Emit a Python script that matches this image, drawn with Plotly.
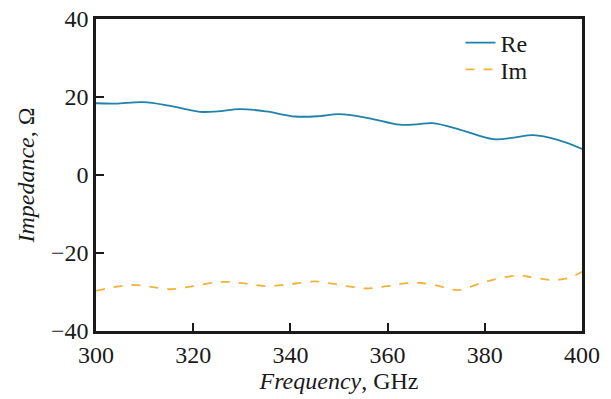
import plotly.graph_objects as go

freq_re = [300, 304, 309.7, 315, 321.4, 325, 329.6, 335, 341, 346, 350, 356, 362.5, 366, 369.3, 375, 381.7, 386, 390, 395, 400]
re_vals = [18.4, 18.3, 18.7, 17.8, 16.2, 16.3, 16.9, 16.3, 15.0, 15.1, 15.6, 14.6, 12.9, 13.0, 13.3, 11.6, 9.2, 9.6, 10.2, 9.0, 6.7]

freq_im = [300, 303.5, 307.4, 311, 315.2, 320, 326, 330.5, 335, 340, 345, 349, 352.3, 355.8, 360, 365.2, 370, 374.5, 380, 386.6, 390, 393.4, 397, 400]
im_vals = [-29.7, -28.8, -28.2, -28.6, -29.3, -28.5, -27.4, -27.8, -28.5, -28.0, -27.3, -27.9, -28.6, -29.1, -28.5, -27.6, -28.3, -29.5, -27.4, -25.8, -26.3, -26.9, -26.5, -24.8]

x_ticks = [300, 320, 340, 360, 380, 400]
y_ticks = [-40, -20, 0, 20, 40]

fig = go.Figure()
fig.add_trace(go.Scatter(x=freq_re, y=re_vals, mode="lines", name="Re", legend="legend",
                         line=dict(color="#1f82a8", width=1.8, shape="spline", smoothing=1.0)))
fig.add_trace(go.Scatter(x=freq_im, y=im_vals, mode="lines", name="Im", legend="legend2",
                         line=dict(color="#f2b33d", width=1.8, dash="dash", shape="spline", smoothing=1.0)))

font_family = "Liberation Serif"
leg_common = dict(xanchor="left", yanchor="middle", bgcolor="rgba(0,0,0,0)",
                  font=dict(size=24), itemwidth=30)
fig.update_layout(
    width=611, height=399,
    margin=dict(l=96, r=29, t=19, b=68),
    plot_bgcolor="white", paper_bgcolor="white",
    font=dict(family=font_family, size=24, color="#1a1a1a"),
    showlegend=True,
    legend=dict(x=0.75, y=0.923, **leg_common),
    legend2=dict(x=0.75, y=0.837, **leg_common),
    xaxis=dict(range=[300, 400], tickvals=x_ticks, ticks="inside", ticklen=8, tickwidth=1.5,
               tickcolor="#1a1a1a", showline=True, linecolor="#1a1a1a", linewidth=2.5, mirror=True,
               showgrid=False, zeroline=False, automargin=False,
               title=dict(text="<i>Frequency</i>, GHz", font=dict(size=24), standoff=4)),
    yaxis=dict(range=[-40, 40], tickvals=y_ticks, ticks="inside", ticklen=8, tickwidth=1.5,
               tickcolor="#1a1a1a", showline=True, linecolor="#1a1a1a", linewidth=2.5, mirror=True,
               showgrid=False, zeroline=False, automargin=False,
               title=dict(text="<i>Impedance</i>, Ω", font=dict(size=24), standoff=10)),
)

fig.write_html("out.html")
